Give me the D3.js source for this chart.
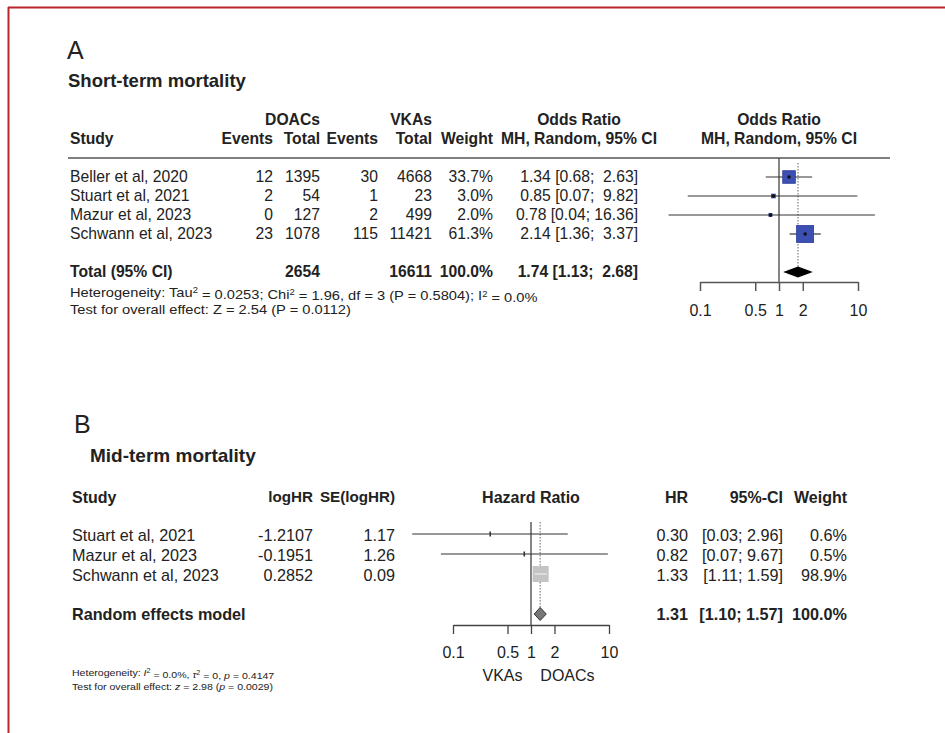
<!DOCTYPE html>
<html>
<head>
<meta charset="utf-8">
<script src="https://cdn.jsdelivr.net/npm/d3@7"></script>
<style>
  html, body { margin: 0; padding: 0; background: #fff; }
  svg { display: block; font-family: "Liberation Sans", Arial, sans-serif; }
  text { fill: #222; white-space: pre; }
</style>
</head>
<body>
<svg id="chart" width="945" height="733"></svg>
<script>
// ---- Panel A: short-term mortality (odds ratios) ----
const studiesA = ["Beller et al, 2020", "Stuart et al, 2021", "Mazur et al, 2023", "Schwann et al, 2023"];
const doacEvents = [12, 2, 0, 23];
const doacTotal = [1395, 54, 127, 1078];
const vkaEvents = [30, 1, 2, 115];
const vkaTotal = [4668, 23, 499, 11421];
const weightA = [33.7, 3.0, 2.0, 61.3];
const orA = [1.34, 0.85, 0.78, 2.14];
const orLoA = [0.68, 0.07, 0.04, 1.36];
const orHiA = [2.63, 9.82, 16.36, 3.37];
const pooledA = { est: 1.74, lo: 1.13, hi: 2.68, doacTotal: 2654, vkaTotal: 16611, weight: 100.0 };

// ---- Panel B: mid-term mortality (hazard ratios) ----
const studiesB = ["Stuart et al, 2021", "Mazur et al, 2023", "Schwann et al, 2023"];
const logHR = ["-1.2107", "-0.1951", "0.2852"];
const seLogHR = ["1.17", "1.26", "0.09"];
const hrB = [0.30, 0.82, 1.33];
const hrLoB = [0.03, 0.07, 1.11];
const hrHiB = [2.96, 9.67, 1.59];
const weightB = [0.6, 0.5, 98.9];
const pooledB = { est: 1.31, lo: 1.10, hi: 1.57, weight: 100.0 };

const tickValues = [0.1, 0.5, 1, 2, 10];
const tickLabels = ["0.1", "0.5", "1", "2", "10"];

const svg = d3.select("#chart");
const FS = 15.7;

// frame
svg.append("line").attr("x1", 8).attr("x2", 945).attr("y1", 7.5).attr("y2", 7.5)
  .attr("stroke", "#b8262c").attr("stroke-width", 2);
svg.append("line").attr("x1", 8.5).attr("x2", 8.5).attr("y1", 7).attr("y2", 733)
  .attr("stroke", "#b8262c").attr("stroke-width", 2);

function txt(g, x, y, s, opts = {}) {
  const t = g.append("text").attr("dy", "0.35em")
    .attr("font-size", opts.size || FS)
    .attr("text-anchor", opts.anchor || "start")
    .text(s);
  if (opts.sx) t.attr("transform", `translate(${x},${y}) scale(${opts.sx},1)`);
  else t.attr("x", x).attr("y", y);
  if (opts.bold) t.attr("font-weight", "bold");
  return t;
}
// text block stretched horizontally (wide, short glyphs)
function wideText(g, x, y, size, sx) {
  return g.append("text").attr("transform", `translate(${x},${y}) scale(${sx},1)`)
    .attr("dy", "0.35em").attr("font-size", size);
}
const f2 = v => v.toFixed(2);
const pad = (s, n) => s.padStart(n, " ");

// ================= PANEL A =================
const gA = svg.append("g");
txt(gA, 67, 50, "A", { size: 25 });
txt(gA, 68, 81, "Short-term mortality", { size: 18.5, bold: true });

const colA = { study: 70, dEv: 273, dTot: 320, vEv: 378, vTot: 432, w: 493, ci: 638, ciMid: 579, plotMid: 779 };
const hdr1 = 120, hdr2 = 139;
txt(gA, colA.dTot, hdr1, "DOACs", { bold: true, anchor: "end" });
txt(gA, colA.vTot, hdr1, "VKAs", { bold: true, anchor: "end" });
txt(gA, colA.ciMid, hdr1, "Odds Ratio", { bold: true, anchor: "middle" });
txt(gA, colA.plotMid, hdr1, "Odds Ratio", { bold: true, anchor: "middle" });
txt(gA, colA.study, hdr2, "Study", { bold: true });
txt(gA, colA.dEv, hdr2, "Events", { bold: true, anchor: "end" });
txt(gA, colA.dTot, hdr2, "Total", { bold: true, anchor: "end" });
txt(gA, colA.vEv, hdr2, "Events", { bold: true, anchor: "end" });
txt(gA, colA.vTot, hdr2, "Total", { bold: true, anchor: "end" });
txt(gA, colA.w, hdr2, "Weight", { bold: true, anchor: "end" });
txt(gA, colA.ciMid, hdr2, "MH, Random, 95% CI", { bold: true, anchor: "middle" });
txt(gA, colA.plotMid, hdr2, "MH, Random, 95% CI", { bold: true, anchor: "middle" });

const ruleY = 158;
gA.append("line").attr("x1", 68).attr("x2", 890).attr("y1", ruleY).attr("y2", ruleY)
  .attr("stroke", "#555").attr("stroke-width", 1.6);

const yA = d3.scaleLinear().domain([0, 1]).range([177, 196]);
const totalYA = 272;
const xA = d3.scaleLog().domain([0.1, 10]).range([700, 858]);

studiesA.forEach((s, i) => {
  const y = yA(i);
  txt(gA, colA.study, y, s);
  txt(gA, colA.dEv, y, String(doacEvents[i]), { anchor: "end" });
  txt(gA, colA.dTot, y, String(doacTotal[i]), { anchor: "end" });
  txt(gA, colA.vEv, y, String(vkaEvents[i]), { anchor: "end" });
  txt(gA, colA.vTot, y, String(vkaTotal[i]), { anchor: "end" });
  txt(gA, colA.w, y, weightA[i].toFixed(1) + "%", { anchor: "end" });
  txt(gA, colA.ci, y, f2(orA[i]) + " [" + f2(orLoA[i]) + "; " + pad(f2(orHiA[i]), 5) + "]", { anchor: "end" });
});
txt(gA, colA.study, totalYA, "Total (95% CI)", { bold: true });
txt(gA, colA.dTot, totalYA, String(pooledA.doacTotal), { bold: true, anchor: "end" });
txt(gA, colA.vTot, totalYA, String(pooledA.vkaTotal), { bold: true, anchor: "end" });
txt(gA, colA.w, totalYA, pooledA.weight.toFixed(1) + "%", { bold: true, anchor: "end" });
txt(gA, colA.ci, totalYA, f2(pooledA.est) + " [" + f2(pooledA.lo) + "; " + pad(f2(pooledA.hi), 5) + "]", { bold: true, anchor: "end" });

// heterogeneity lines with superscripts
const hetFS = 13.2, hetSX = 1.11, supFS = 8.5;
const h1 = wideText(gA, colA.study, 292, hetFS, hetSX);
h1.append("tspan").text("Heterogeneity: Tau");
h1.append("tspan").attr("dy", "-0.4em").attr("font-size", supFS).text("2");
h1.append("tspan").attr("dy", "0.4em").text(" = 0.0253; Chi");
h1.append("tspan").attr("dy", "-0.4em").attr("font-size", supFS).text("2");
h1.append("tspan").attr("dy", "0.4em").text(" = 1.96, df = 3 (P = 0.5804); I");
h1.append("tspan").attr("dy", "-0.4em").attr("font-size", supFS).text("2");
h1.append("tspan").attr("dy", "0.4em").text(" = 0.0%");
wideText(gA, colA.study, 309, hetFS, hetSX).text("Test for overall effect: Z = 2.54 (P = 0.0112)");

// forest A
const axisYA = 282;
gA.append("line").attr("x1", xA(1)).attr("x2", xA(1)).attr("y1", ruleY).attr("y2", axisYA)
  .attr("stroke", "#444").attr("stroke-width", 1.3);
gA.append("line").attr("x1", xA(pooledA.est)).attr("x2", xA(pooledA.est)).attr("y1", 163).attr("y2", totalYA - 5)
  .attr("stroke", "#666").attr("stroke-width", 1).attr("stroke-dasharray", "1.5,1.5");

const sqScaleA = d3.scaleSqrt().domain([0, 61.3]).range([0, 17]);
studiesA.forEach((s, i) => {
  const y = yA(i);
  gA.append("line").attr("x1", xA(orLoA[i])).attr("x2", xA(orHiA[i])).attr("y1", y).attr("y2", y)
    .attr("stroke", "#333").attr("stroke-width", 1.2);
  const sz = sqScaleA(weightA[i]);
  gA.append("rect").attr("x", xA(orA[i]) - sz / 2).attr("y", y - sz / 2).attr("width", sz).attr("height", sz)
    .attr("fill", "#3c4fb2").attr("stroke", "#2c3c98").attr("stroke-width", 0.8);
  gA.append("circle").attr("cx", xA(orA[i])).attr("cy", y).attr("r", 1.8).attr("fill", "#111");
});
const dA = [[xA(pooledA.lo), totalYA], [xA(pooledA.est), totalYA - 5.5], [xA(pooledA.hi), totalYA], [xA(pooledA.est), totalYA + 5.5]];
gA.append("polygon").attr("points", dA.map(p => p.join(",")).join(" ")).attr("fill", "#000");

const axA = gA.append("g").attr("transform", `translate(0,${axisYA})`)
  .call(d3.axisBottom(xA).tickValues(tickValues).tickFormat((d, i) => tickLabels[i]).tickSize(9).tickSizeOuter(0).tickPadding(14));
axA.selectAll("path, line").attr("stroke", "#555").attr("stroke-width", 1.5);
axA.selectAll("text").attr("font-size", 16).attr("font-family", "Liberation Sans, Arial, sans-serif").attr("fill", "#222");

// ================= PANEL B =================
const gB = svg.append("g");
const FSB = 16.2, FSBH = 16, FSBN = 15.2;
txt(gB, 74, 424, "B", { size: 25 });
txt(gB, 90, 455, "Mid-term mortality", { size: 19, bold: true });

const colB = { study: 72, logHR: 313, se: 395, plotMid: 531, hr: 688, ci: 783, w: 847 };
const hdrB = 497;
txt(gB, colB.study, hdrB, "Study", { bold: true, size: FSBH });
txt(gB, colB.logHR, hdrB, "logHR", { bold: true, anchor: "end", size: FSBN });
txt(gB, colB.se, hdrB, "SE(logHR)", { bold: true, anchor: "end", size: FSBN });
txt(gB, colB.plotMid, hdrB, "Hazard Ratio", { bold: true, anchor: "middle", size: FSBH });
txt(gB, colB.hr, hdrB, "HR", { bold: true, anchor: "end", size: FSBH });
txt(gB, colB.ci, hdrB, "95%-CI", { bold: true, anchor: "end", size: FSBH });
txt(gB, colB.w, hdrB, "Weight", { bold: true, anchor: "end", size: FSBH });

const yB = d3.scaleLinear().domain([0, 1]).range([535, 555]);
const totalYB = 614;
const xB = d3.scaleLog().domain([0.1, 10]).range([453, 609]);

studiesB.forEach((s, i) => {
  const y = yB(i);
  txt(gB, colB.study, y, s, { size: FSB });
  txt(gB, colB.logHR, y, logHR[i], { anchor: "end", size: FSB });
  txt(gB, colB.se, y, seLogHR[i], { anchor: "end", size: FSB });
  txt(gB, colB.hr, y, f2(hrB[i]), { anchor: "end", size: FSB });
  txt(gB, colB.ci, y, "[" + f2(hrLoB[i]) + "; " + f2(hrHiB[i]) + "]", { anchor: "end", size: FSB });
  txt(gB, colB.w, y, weightB[i].toFixed(1) + "%", { anchor: "end", size: FSB });
});
txt(gB, colB.study, totalYB, "Random effects model", { bold: true, size: FSB });
txt(gB, colB.hr, totalYB, f2(pooledB.est), { bold: true, anchor: "end", size: FSB });
txt(gB, colB.ci, totalYB, "[" + f2(pooledB.lo) + "; " + f2(pooledB.hi) + "]", { bold: true, anchor: "end", size: FSB });
txt(gB, colB.w, totalYB, pooledB.weight.toFixed(1) + "%", { bold: true, anchor: "end", size: FSB });

// small heterogeneity notes
const smallFS = 9.6, smallSX = 1.1, smallSup = 6.5;
const n1 = wideText(gB, colB.study, 673, smallFS, smallSX);
n1.append("tspan").text("Heterogeneity: ");
n1.append("tspan").attr("font-style", "italic").text("I");
n1.append("tspan").attr("dy", "-0.45em").attr("font-size", smallSup).text("2");
n1.append("tspan").attr("dy", "0.45em").text(" = 0.0%, ");
n1.append("tspan").attr("font-style", "italic").text("τ");
n1.append("tspan").attr("dy", "-0.45em").attr("font-size", smallSup).text("2");
n1.append("tspan").attr("dy", "0.45em").text(" = 0, ");
n1.append("tspan").attr("font-style", "italic").text("p");
n1.append("tspan").text(" = 0.4147");
const n2 = wideText(gB, colB.study, 687, smallFS, smallSX);
n2.append("tspan").text("Test for overall effect: ");
n2.append("tspan").attr("font-style", "italic").text("z");
n2.append("tspan").text(" = 2.98 (");
n2.append("tspan").attr("font-style", "italic").text("p");
n2.append("tspan").text(" = 0.0029)");

// forest B
const axisYB = 625;
gB.append("line").attr("x1", xB(1)).attr("x2", xB(1)).attr("y1", 522).attr("y2", axisYB)
  .attr("stroke", "#444").attr("stroke-width", 1.3);
gB.append("line").attr("x1", xB(pooledB.est)).attr("x2", xB(pooledB.est)).attr("y1", 522).attr("y2", totalYB - 6)
  .attr("stroke", "#666").attr("stroke-width", 1).attr("stroke-dasharray", "1.5,1.5");

const sqScaleB = d3.scaleSqrt().domain([0, 98.9]).range([0, 16]);
studiesB.forEach((s, i) => {
  const y = yB(i) - 1;
  const sz = sqScaleB(weightB[i]);
  const inside = xB(hrLoB[i]) > xB(hrB[i]) - sz / 2 && xB(hrHiB[i]) < xB(hrB[i]) + sz / 2;
  if (!inside) {
    gB.append("line").attr("x1", xB(hrLoB[i])).attr("x2", xB(hrHiB[i])).attr("y1", y).attr("y2", y)
      .attr("stroke", "#333").attr("stroke-width", 1.2);
  }
  gB.append("rect").attr("x", xB(hrB[i]) - sz / 2).attr("y", y - sz / 2).attr("width", sz).attr("height", sz)
    .attr("fill", "#c4c4c4").attr("stroke", "none");
  if (inside) {
    gB.append("line").attr("x1", xB(hrLoB[i])).attr("x2", xB(hrHiB[i])).attr("y1", y).attr("y2", y)
      .attr("stroke", "#eee").attr("stroke-width", 1.2);
  } else {
    gB.append("line").attr("x1", xB(hrB[i])).attr("x2", xB(hrB[i])).attr("y1", y - 2.5).attr("y2", y + 2.5)
      .attr("stroke", "#333").attr("stroke-width", 1.6);
  }
});
const dB = [[xB(pooledB.lo), totalYB], [xB(pooledB.est), totalYB - 6.5], [xB(pooledB.hi), totalYB], [xB(pooledB.est), totalYB + 6.5]];
gB.append("polygon").attr("points", dB.map(p => p.join(",")).join(" ")).attr("fill", "#777").attr("stroke", "#333").attr("stroke-width", 1);

const axB = gB.append("g").attr("transform", `translate(0,${axisYB})`)
  .call(d3.axisBottom(xB).tickValues(tickValues).tickFormat((d, i) => tickLabels[i]).tickSize(9).tickSizeOuter(0).tickPadding(13));
axB.selectAll("path, line").attr("stroke", "#444").attr("stroke-width", 1.3);
axB.selectAll("text").attr("font-size", 16).attr("font-family", "Liberation Sans, Arial, sans-serif").attr("fill", "#222");

txt(gB, xB(0.5) - 5, 675, "VKAs", { anchor: "middle", size: 16 });
txt(gB, xB(2) + 13, 675, "DOACs", { anchor: "middle", size: 16 });
</script>
</body>
</html>
